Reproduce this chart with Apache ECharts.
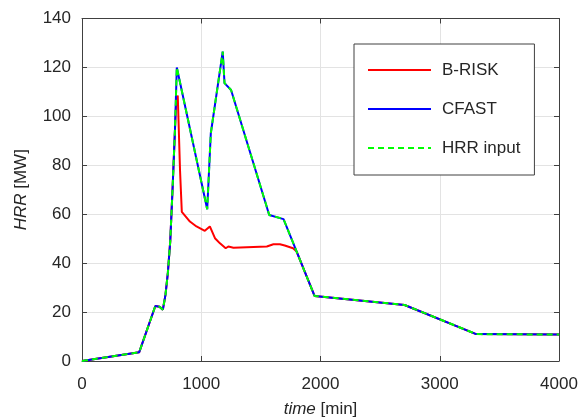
<!DOCTYPE html>
<html>
<head>
<meta charset="utf-8">
<script src="https://cdn.jsdelivr.net/npm/echarts@6/dist/echarts.min.js"></script>
<style>
html,body{margin:0;padding:0;background:#fff;}
#chart{width:580px;height:419px;}
</style>
</head>
<body>
<div id="chart"></div>
<script>
// ---- data (time [min], HRR [MW]) ----
const cfastTime = [0, 480, 615, 650, 678, 700, 720, 740, 760, 780, 795, 1050, 1080, 1180, 1195, 1250, 1570, 1690, 1950, 2705, 3305, 4000];
const cfastHrr  = [0, 3.6, 22.5, 22.2, 21, 27, 36, 49, 71, 95, 120, 62, 93, 126.5, 113.6, 110.8, 59.7, 58, 26.6, 22.9, 11, 10.8];

const inputTime = [0, 480, 615, 650, 678, 700, 720, 740, 760, 780, 795, 1050, 1080, 1180, 1195, 1250, 1570, 1690, 1950, 2705, 3305, 4000];
const inputHrr  = [0, 3.6, 22.5, 22.2, 21, 27, 36, 49, 71, 95, 120, 62, 93, 126.5, 113.6, 110.8, 59.7, 58, 26.6, 22.9, 11, 10.8];

const briskTime = [0, 480, 615, 650, 678, 700, 720, 740, 760, 780, 790, 803, 822, 837, 905, 960, 1030, 1072, 1115, 1157, 1205, 1227, 1270, 1550, 1605, 1660, 1700, 1770, 1800, 1950, 2705, 3305, 4000];
const briskHrr  = [0, 3.6, 22.5, 22.2, 21, 27, 36, 49, 71, 95, 106, 108.5, 78, 61, 57, 55, 53.2, 55, 50.2, 48.1, 46.1, 46.8, 46.3, 46.8, 47.7, 47.7, 47.2, 46.1, 44.7, 26.6, 22.9, 11, 10.8];

const seriesNames = ['B-RISK', 'CFAST', 'HRR input'];
const xTicks = [0, 1000, 2000, 3000, 4000];
const yTicks = [0, 20, 40, 60, 80, 100, 120, 140];

const pairs = (t, v) => t.map((x, i) => [x, v[i]]);

const FONT = '"Liberation Sans", Arial, sans-serif';
const TXT = '#262626';
const AX = '#404040';

const chart = echarts.init(document.getElementById('chart'), null, {renderer: 'canvas'});

const baseX = {
  type: 'value', min: xTicks[0], max: xTicks[xTicks.length - 1], interval: 1000
};
const baseY = {
  type: 'value', min: yTicks[0], max: yTicks[yTicks.length - 1], interval: 20
};

chart.setOption({
  animation: false,
  backgroundColor: '#fff',
  textStyle: {fontFamily: FONT},
  grid: {left: 82, right: 21, top: 18.5, bottom: 58, show: false, containLabel: false, outerBoundsMode: 'none'},
  legend: {
    orient: 'vertical',
    left: 354, top: 44,
    padding: [16, 14, 17, 13],
    itemGap: 19,
    itemWidth: 63, itemHeight: 20,
    backgroundColor: '#fff',
    borderColor: AX, borderWidth: 1, borderRadius: 0,
    itemStyle: {opacity: 0},
    data: seriesNames,
    textStyle: {fontSize: 17, color: TXT, fontFamily: FONT, padding: [0, 0, 0, 6], lineHeight: 20}
  },
  xAxis: [
    Object.assign({}, baseX, {
      position: 'bottom',
      name: '{i|time} [min]',
      nameLocation: 'middle', nameGap: 40,
      nameTextStyle: {fontSize: 17, color: TXT, fontFamily: FONT,
        rich: {i: {fontStyle: 'italic', fontSize: 17, color: TXT, fontFamily: FONT}}},
      axisLine: {show: true, onZero: false, lineStyle: {color: AX, width: 1}},
      axisTick: {show: true, inside: true, length: 5, lineStyle: {color: AX}},
      axisLabel: {fontSize: 17, color: TXT, margin: 15, fontFamily: FONT, formatter: v => String(v)},
      splitLine: {show: true, lineStyle: {color: '#e3e3e3', width: 1}}
    }),
    Object.assign({}, baseX, {
      position: 'top',
      axisLine: {show: true, onZero: false, lineStyle: {color: AX, width: 1}},
      axisTick: {show: true, inside: true, length: 5, lineStyle: {color: AX}},
      axisLabel: {show: false},
      splitLine: {show: false}
    })
  ],
  yAxis: [
    Object.assign({}, baseY, {
      position: 'left',
      name: '{i|HRR} [MW]',
      nameLocation: 'middle', nameGap: 52,
      nameTextStyle: {fontSize: 17, color: TXT, fontFamily: FONT,
        rich: {i: {fontStyle: 'italic', fontSize: 17, color: TXT, fontFamily: FONT}}},
      axisLine: {show: true, onZero: false, lineStyle: {color: AX, width: 1}},
      axisTick: {show: true, inside: true, length: 5, lineStyle: {color: AX}},
      axisLabel: {fontSize: 17, color: TXT, margin: 11, fontFamily: FONT, formatter: v => String(v)},
      splitLine: {show: true, lineStyle: {color: '#e3e3e3', width: 1}}
    }),
    Object.assign({}, baseY, {
      position: 'right',
      axisLine: {show: true, onZero: false, lineStyle: {color: AX, width: 1}},
      axisTick: {show: true, inside: true, length: 5, lineStyle: {color: AX}},
      axisLabel: {show: false},
      splitLine: {show: false}
    })
  ],
  series: [
    {
      name: seriesNames[0], type: 'line', data: pairs(briskTime, briskHrr),
      symbol: 'none', color: '#ff0000',
      lineStyle: {color: '#ff0000', width: 2}, z: 2
    },
    {
      name: seriesNames[1], type: 'line', data: pairs(cfastTime, cfastHrr),
      symbol: 'none', color: '#0000ff',
      lineStyle: {color: '#0000ff', width: 2}, z: 3
    },
    {
      name: seriesNames[2], type: 'line', data: pairs(inputTime, inputHrr),
      symbol: 'none', color: '#00ff00',
      lineStyle: {color: '#00ff00', width: 2, type: [6, 4]}, z: 4
    }
  ]
});
</script>
</body>
</html>
